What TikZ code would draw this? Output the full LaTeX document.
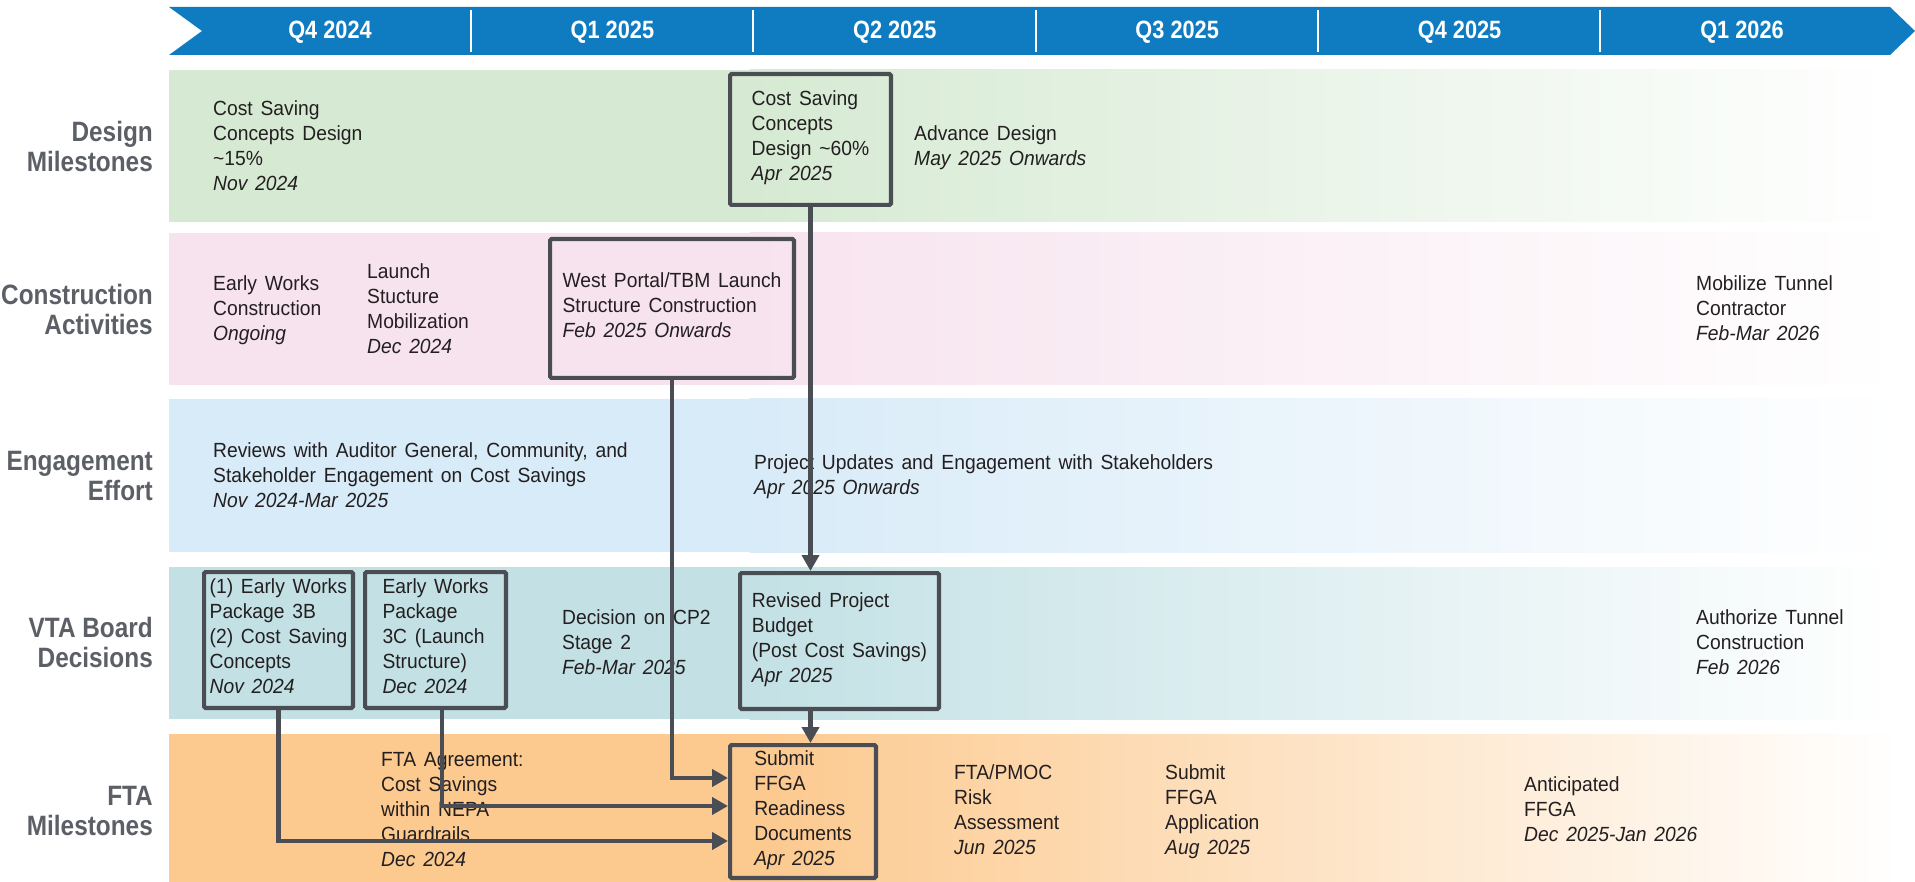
\documentclass[tikz,border=0pt]{standalone}
\usepackage{fontspec}
\setmainfont[FakeStretch=0.94]{Liberation Sans}
\newfontfamily\condfont[FakeStretch=0.87]{Liberation Sans}
\usetikzlibrary{arrows.meta}

\definecolor{barblue}{HTML}{0F7BC1}
\definecolor{bandgreen}{HTML}{D6EAD3}
\definecolor{bandpink}{HTML}{F7E3EE}
\definecolor{bandblue}{HTML}{D8EBF8}
\definecolor{bandteal}{HTML}{C3E1E5}
\definecolor{bandorange}{HTML}{FCC98E}
\definecolor{linkgray}{HTML}{4A4D53}
\definecolor{labelgray}{HTML}{5C6066}
\definecolor{inkdark}{HTML}{231F20}

\newcommand\notefont{\fontsize{20.5}{25}\selectfont\spaceskip=7.8pt\relax}

\begin{document}
\begin{tikzpicture}[x=1pt,y=-1pt,
    note/.style={anchor=west, align=left, inner sep=0pt, font=\notefont, text=inkdark,
      execute at begin node=\strut, execute at end node=\strut},
    milestone/.style={draw=linkgray, line width=4.2pt, rounded corners=1.5pt, align=left,
      inner sep=0pt, font=\notefont, text=inkdark,
      execute at begin node=\strut, execute at end node=\strut},
    rowlabel/.style={anchor=east, align=right, inner sep=0pt, text=labelgray,
      font=\condfont\bfseries\fontsize{28}{30}\selectfont,
      execute at begin node=\strut, execute at end node=\strut},
    quarter/.style={anchor=base, inner sep=0pt, text=white,
      font=\condfont\bfseries\fontsize{25}{30}\selectfont},
    link/.style={draw=linkgray, line width=4.3pt, -{Triangle[length=16pt,width=17pt]}}]
  \useasboundingbox (0,0) rectangle (1915,882);

  % row bands, fading out to the right
  \foreach \top/\bot/\col in {70/222/bandgreen, 233/385/bandpink, 399/552/bandblue,
                              567/719/bandteal, 734/882/bandorange} {
    \fill[\col] (169,\top) rectangle (750,\bot);
    \shade[left color=\col, right color=white] (749.5,\top) rectangle (1900,\bot);
  }

  % timeline banner
  \fill[barblue] (169,7) -- (1890,7) -- (1915,31) -- (1890,55) -- (169,55) -- (202,31) -- cycle;
  \foreach \x in {471,753,1036,1318,1600}
    \draw[white, line width=2.5pt] (\x,10) -- (\x,52);
  \foreach \q [count=\i from 0] in {Q4 2024, Q1 2025, Q2 2025, Q3 2025, Q4 2025, Q1 2026}
    \node[quarter] (q\i) at (330+282.4*\i,38.5) {\q};

  % row labels
  \node[rowlabel] (lDesign) at (153,151) {Design\\Milestones};
  \node[rowlabel] (lBuild)  at (153,314) {Construction\\Activities};
  \node[rowlabel] (lEngage) at (153,480) {Engagement\\Effort};
  \node[rowlabel] (lBoard)  at (153,647) {VTA Board\\Decisions};
  \node[rowlabel] (lFta)    at (153,815) {FTA\\Milestones};

  % design milestones
  \node[note] (dsEarly) at (213,149) {Cost Saving\\Concepts Design\\\textasciitilde15\%\\\textit{Nov 2024}};
  \node[milestone, minimum width=160.8, minimum height=130.8] (dsBox) at (810.5,139.5)
    {Cost Saving\\Concepts\\Design \textasciitilde60\%\\\textit{Apr 2025}};
  \node[note] (dsAdv) at (914,149) {Advance Design\\\textit{May 2025 Onwards}};

  % construction activities
  \node[note] (csEarly)  at (213,312) {Early Works\\Construction\\\textit{Ongoing}};
  \node[note] (csLaunch) at (367,312) {Launch\\Stucture\\Mobilization\\\textit{Dec 2024}};
  \node[milestone, minimum width=243.8, minimum height=138.8] (wpBox) at (672,308.5)
    {West Portal/TBM Launch\\Structure Construction\\\textit{Feb 2025 Onwards}};
  \node[note] (csMob) at (1696,312) {Mobilize Tunnel\\Contractor\\\textit{Feb-Mar 2026}};

  % engagement effort
  \node[note] (enReview) at (213,478.5)
    {Reviews with Auditor General, Community, and\\Stakeholder Engagement on Cost Savings\\\textit{Nov 2024-Mar 2025}};
  \node[note] (enUpdate) at (754,478.5)
    {Project Updates and Engagement with Stakeholders\\\textit{Apr 2025 Onwards}};

  % board decisions
  \node[milestone, minimum width=148.8, minimum height=135.8] (vb1) at (278.5,640)
    {(1) Early Works\\Package 3B\\(2) Cost Saving\\Concepts\\\textit{Nov 2024}};
  \node[milestone, minimum width=140.8, minimum height=135.8] (vb2) at (435.5,640)
    {Early Works\\Package\\3C (Launch\\Structure)\\\textit{Dec 2024}};
  \node[note] (vtDecision) at (562,645.5) {Decision on CP2\\Stage 2\\\textit{Feb-Mar 2025}};
  \node[milestone, minimum width=198.8, minimum height=135.8] (vb3) at (839.5,641)
    {Revised Project\\Budget\\(Post Cost Savings)\\\textit{Apr 2025}};
  \node[note] (vtAuth) at (1696,645.5) {Authorize Tunnel\\Construction\\\textit{Feb 2026}};

  % FTA milestones
  \node[note] (ftAgree) at (381,813) {FTA Agreement:\\Cost Savings\\within NEPA\\Guardrails\\\textit{Dec 2024}};
  \node[milestone, minimum width=145.8, minimum height=132.8] (ftaBox) at (803,811.5)
    {Submit\\FFGA\\Readiness\\Documents\\\textit{Apr 2025}};
  \node[note] (ftRisk)   at (954,813)  {FTA/PMOC\\Risk\\Assessment\\\textit{Jun 2025}};
  \node[note] (ftSubmit) at (1165,813) {Submit\\FFGA\\Application\\\textit{Aug 2025}};
  \node[note] (ftAnt)    at (1524,813) {Anticipated\\FFGA\\\textit{Dec 2025-Jan 2026}};

  % dependencies
  \coordinate (jWp)  at (0,778);
  \coordinate (jVb2) at (0,806);
  \coordinate (jVb1) at (0,841);
  \draw[link] (dsBox.south) -- (dsBox.south |- vb3.north);
  \draw[link] (vb3.south -| dsBox.south) -- (dsBox.south |- ftaBox.north);
  \draw[link] (wpBox.south) |- (jWp -| ftaBox.west);
  \draw[link] ([xshift=6.5pt]vb2.south) |- (jVb2 -| ftaBox.west);
  \draw[link] (vb1.south) |- (jVb1 -| ftaBox.west);
\end{tikzpicture}
\end{document}
